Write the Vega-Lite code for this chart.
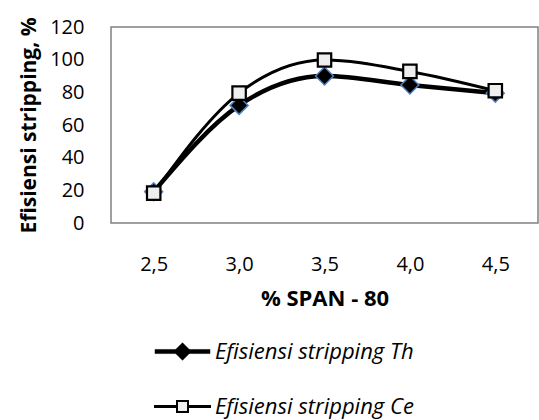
{
  "$schema": "https://vega.github.io/schema/vega-lite/v6.json",
  "autosize": {"type": "none"},
  "padding": {"left": 111, "top": 27, "right": 1, "bottom": 197},
  "width": 427,
  "height": 196,
  "background": "white",
  "data": {
    "values": [
      {"x": "2,5", "series": "Efisiensi stripping Th", "y": 19.2},
      {"x": "3,0", "series": "Efisiensi stripping Th", "y": 72},
      {"x": "3,5", "series": "Efisiensi stripping Th", "y": 90},
      {"x": "4,0", "series": "Efisiensi stripping Th", "y": 84.5},
      {"x": "4,5", "series": "Efisiensi stripping Th", "y": 79.5},
      {"x": "2,5", "series": "Efisiensi stripping Ce", "y": 18.3},
      {"x": "3,0", "series": "Efisiensi stripping Ce", "y": 79.5},
      {"x": "3,5", "series": "Efisiensi stripping Ce", "y": 99.8},
      {"x": "4,0", "series": "Efisiensi stripping Ce", "y": 92.8},
      {"x": "4,5", "series": "Efisiensi stripping Ce", "y": 81}
    ]
  },
  "encoding": {
    "x": {
      "field": "x", "type": "ordinal", "sort": null,
      "scale": {"type": "point", "padding": 0.5},
      "axis": {"title": "% SPAN - 80", "labelAngle": 0, "ticks": false, "domain": false, "grid": false, "labelPadding": 31, "titlePadding": 14, "titleFontSize": 22}
    },
    "y": {
      "field": "y", "type": "quantitative",
      "scale": {"domain": [0, 120], "nice": false},
      "axis": {"title": "Efisiensi stripping, %", "values": [0, 20, 40, 60, 80, 100, 120], "ticks": false, "domain": false, "grid": false, "labelPadding": 27, "titlePadding": 10, "titleFontSize": 21}
    }
  },
  "layer": [
    {
      "transform": [{"filter": "datum.series === 'Efisiensi stripping Th'"}],
      "mark": {"type": "line", "strokeWidth": 4.5, "interpolate": "monotone"},
      "encoding": {
        "color": {
          "field": "series", "type": "nominal",
          "scale": {"domain": ["Efisiensi stripping Th", "Efisiensi stripping Ce"], "range": ["black", "black"]},
          "legend": {
            "title": null, "orient": "none", "legendX": 60.5, "legendY": 313.5, "direction": "vertical",
            "symbolSize": 3025, "symbolType": "square", "labelFont": "Open Sans", "labelFontSize": 22, "labelFontStyle": "italic", "labelColor": "black",
            "labelOffset": 21.5, "rowPadding": 33, "labelLimit": 400,
            "encode": {
              "symbols": {
                "update": {
                  "shape": {"signal": "datum.value === 'Efisiensi stripping Th' ? 'M-1,-0.075H1V0.075H-1Z M0,-0.32L0.32,0L0,0.32L-0.32,0Z' : 'M-1,-0.02H-0.21V0.02H-1Z M0.21,-0.02H1V0.02H0.21Z M-0.2,-0.2H0.2V0.2H-0.2Z'"},
                  "size": {"value": 3025},
                  "fill": {"signal": "datum.value === 'Efisiensi stripping Th' ? 'black' : '#eeeeee'"},
                  "stroke": {"value": "black"},
                  "strokeWidth": {"signal": "datum.value === 'Efisiensi stripping Th' ? 0.5 : 2"},
                  "opacity": {"value": 1}
                }
              }
            }
          }
        }
      }
    },
    {
      "transform": [{"filter": "datum.series === 'Efisiensi stripping Ce'"}],
      "mark": {"type": "line", "strokeWidth": 3, "interpolate": "monotone"},
      "encoding": {
        "color": {"field": "series", "type": "nominal"}
      }
    },
    {
      "transform": [{"filter": "datum.series === 'Efisiensi stripping Th'"}],
      "mark": {"type": "point", "shape": "diamond", "filled": true, "fill": "black", "stroke": "#4f81bd", "strokeWidth": 1.5, "size": 320, "opacity": 1}
    },
    {
      "transform": [{"filter": "datum.series === 'Efisiensi stripping Ce'"}],
      "mark": {"type": "point", "shape": "square", "filled": true, "fill": "#eeeeee", "stroke": "black", "strokeWidth": 2.2, "size": 180, "opacity": 1}
    }
  ],
  "config": {
    "font": "Open Sans",
    "view": {"stroke": "#808080", "strokeWidth": 1.5},
    "axis": {"labelFont": "Open Sans", "labelFontSize": 20, "labelColor": "black", "titleFont": "Open Sans", "titleFontSize": 20, "titleFontWeight": "bold", "titleColor": "black"}
  }
}
